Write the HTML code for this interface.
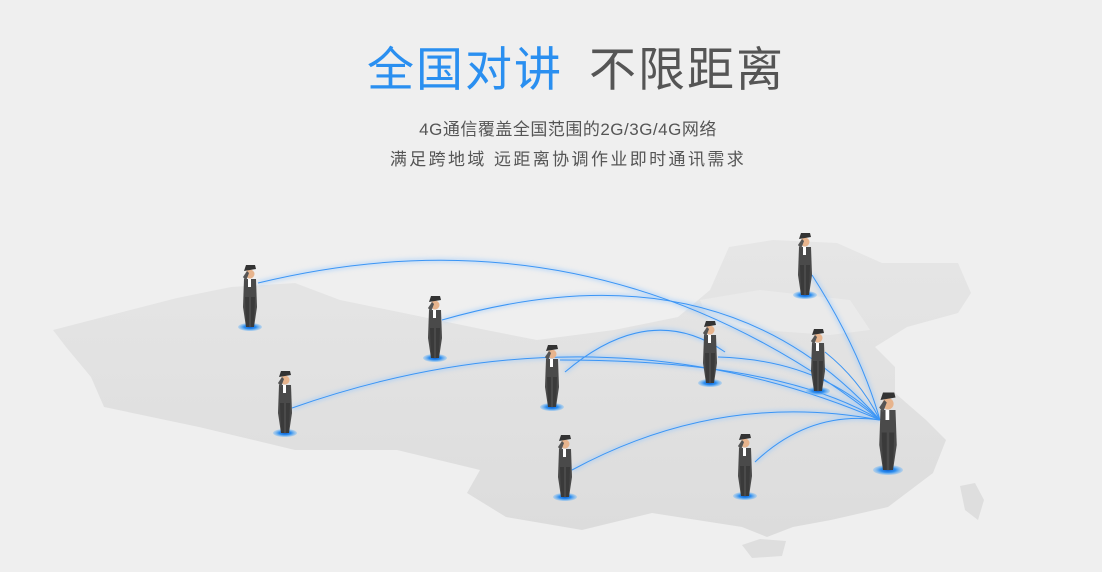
<!DOCTYPE html>
<html><head><meta charset="utf-8"><style>
html,body{margin:0;padding:0;width:1102px;height:572px;background:#efefef;overflow:hidden;font-family:"Liberation Sans","Noto Sans CJK SC",sans-serif}
.t{position:absolute;top:38px;left:25px;width:1102px;text-align:center;font-size:47px;line-height:64px;letter-spacing:2px}
.s{position:absolute;left:17px;width:1102px;text-align:center;font-size:17px;color:#555;letter-spacing:2px}
</style></head><body>
<svg width="1102" height="572" style="position:absolute;left:0;top:0">
<defs>
<linearGradient id="mg" x1="0" y1="0" x2="0" y2="1"><stop offset="0" stop-color="#e6e6e6"/><stop offset="1" stop-color="#dcdcdc"/></linearGradient>
<filter id="gl" x="-20%" y="-20%" width="140%" height="140%"><feGaussianBlur stdDeviation="2"/></filter>
<radialGradient id="pad"><stop offset="0" stop-color="#0a5fd0"/><stop offset="0.5" stop-color="#2f8ff0"/><stop offset="1" stop-color="#7bbcf5" stop-opacity="0.4"/></radialGradient>
<g id="m">
<ellipse cx="0" cy="0" rx="12" ry="4" fill="url(#pad)"/>
<path d="M-6,-48 L6,-48 L7,-20 L4,0 L-4,0 L-7,-20Z" fill="#4a4a4a"/>
<path d="M-5,-30 L-1,-30 L-1,0 L-4,0Z M1,-30 L5,-30 L4,0 L1,0Z" fill="#3a3a3a"/>
<rect x="-2" y="-48" width="3" height="8" fill="#fff"/>
<circle cx="0" cy="-53" r="4.5" fill="#e7b48d"/>
<path d="M-6,-56 L6,-58 L5,-62 L-4,-62Z" fill="#333"/>
<path d="M-7,-50 L-3,-56 L-1,-54 L-4,-46Z" fill="#555"/>
</g>
</defs>
<polygon fill="url(#mg)" points="53,330 177,298 231,287 295,283 340,300 423,317 486,330 537,340 614,330 678,317 710,290 729,247 773,240 837,243 882,263 958,263 971,293 958,313 907,327 875,347 895,367 895,393 926,420 946,440 933,473 888,507 831,520 793,527 767,537 742,527 652,513 582,530 506,517 467,493 480,470 397,450 295,450 199,427 104,407 91,377 66,347"/>
<polygon fill="#eaeaea" points="700,300 760,290 850,300 870,330 830,335 760,330 710,325"/>
<polygon fill="#dedede" points="742,545 760,539 786,541 782,556 752,558"/>
<polygon fill="#dedede" points="960,486 975,483 984,500 978,520 965,510"/>
<g fill="none" stroke="#8cc3ff" stroke-width="4" opacity="0.5" filter="url(#gl)">
<path d="M258,283 Q600,200 880,420"/>
<path d="M442,320 Q720,240 880,420"/>
<path d="M292,408 Q600,300 880,420"/>
<path d="M565,372 Q650,300 725,352"/>
<path d="M560,360 Q780,360 880,420"/>
<path d="M718,357 Q820,360 880,420"/>
<path d="M812,275 Q860,350 880,420"/>
<path d="M572,470 Q720,390 880,420"/>
<path d="M755,462 Q810,410 880,420"/>
</g>
<g fill="none" stroke="#3b95f5" stroke-width="1">
<path d="M258,283 Q600,200 880,420"/>
<path d="M442,320 Q720,240 880,420"/>
<path d="M292,408 Q600,300 880,420"/>
<path d="M565,372 Q650,300 725,352"/>
<path d="M560,360 Q780,360 880,420"/>
<path d="M718,357 Q820,360 880,420"/>
<path d="M812,275 Q860,350 880,420"/>
<path d="M572,470 Q720,390 880,420"/>
<path d="M755,462 Q810,410 880,420"/>
<path d="M825,352 Q860,380 880,420"/>
</g>
<use href="#m" x="250" y="327"/>
<use href="#m" x="435" y="358"/>
<use href="#m" x="285" y="433"/>
<use href="#m" x="552" y="407"/>
<use href="#m" x="710" y="383"/>
<use href="#m" x="805" y="295"/>
<use href="#m" x="818" y="391"/>
<use href="#m" x="565" y="497"/>
<use href="#m" x="745" y="496"/>
<g transform="translate(888,470) scale(1.25)"><use href="#m"/></g>
</svg>
<div class="t"><span style="color:#2a8ff0">全国对讲</span><span style="display:inline-block;width:26px"></span><span style="color:#555">不限距离</span></div>
<div class="s" style="top:115px;letter-spacing:0.5px">4G通信覆盖全国范围的2G/3G/4G网络</div>
<div class="s" style="top:145px;letter-spacing:2.4px">满足跨地域&nbsp;远距离协调作业即时通讯需求</div>
</body></html>
